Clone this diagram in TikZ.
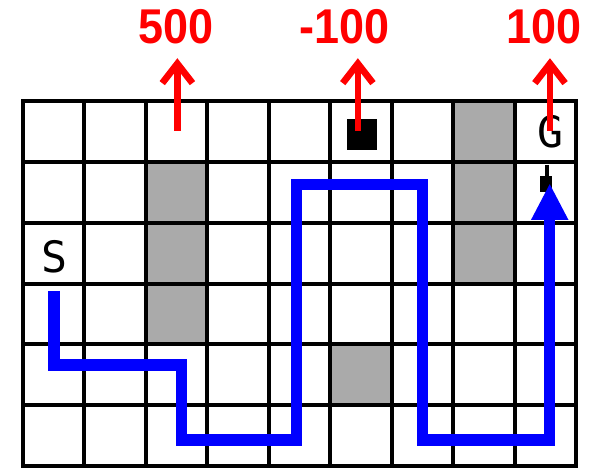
\documentclass[tikz,border=0pt]{standalone}
\usepackage{fontspec}
\usepackage{xcolor}
\usetikzlibrary{arrows.meta}
\newfontfamily\rewardfont{Liberation Sans}
\newfontfamily\cellfont{DejaVu Sans Mono}
\definecolor{wallgray}{RGB}{170,170,170}
\definecolor{pathblue}{RGB}{0,0,255}
\definecolor{rewardred}{RGB}{255,0,0}

\begin{document}
\begin{tikzpicture}[x=1cm,y=0.9886cm,
    wall/.style={fill=wallgray},
    gridline/.style={line width=1.85pt,black,line cap=rect},
    reward/.style={text=rewardred,font=\rewardfont\bfseries\fontsize{22.6}{26}\selectfont,transform shape,xscale=0.92,inner sep=0pt},
    rewardarrow/.style={rewardred,line width=3.1pt,-{Straight Barb[length=9pt,width=14pt]}},
    cell/.style={font=\cellfont\fontsize{20}{24}\selectfont,inner sep=0pt},
    route/.style={pathblue,line width=5.3pt,-{Triangle[length=17pt,width=16pt]}}]
  \useasboundingbox (-0.369,-0.049) rectangle (9.355,7.664);
  \fill[white] (-0.369,-0.049) rectangle (9.355,7.664);
  \foreach \c/\r in {2/2,2/3,2/4,7/3,7/4,7/5,5/1}{\fill[wall] (\c,\r) rectangle ++(1,1);}
  \foreach \x in {0,...,9}{\draw[gridline] (\x,0) -- (\x,6);}
  \foreach \y in {0,...,6}{\draw[gridline] (0,\y) -- (9,\y);}
  \fill (5.27,5.20) rectangle (5.76,5.71);
  \node[cell] (start) at (0.52,3.44) {S};
  \node[cell] (goal) at (8.59,5.50) {G};
  \node[reward] (r500) at (2.495,7.22) {500};
  \node[reward] (rpit) at (5.23,7.22) {-100};
  \node[reward] (rgoal) at (8.476,7.22) {100};
  \draw[rewardarrow] (2.515,5.515) -- (2.515,6.706);
  \draw[rewardarrow] (5.45,5.515) -- (5.45,6.706);
  \draw[rewardarrow] (8.574,5.515) -- (8.574,6.706);
  \draw[line width=1.5pt] (8.525,4.95) -- (8.525,4.62);
  \fill (8.41,4.51) rectangle (8.61,4.77);
  \draw[route] (0.51,2.88) -- (0.51,1.66) -- (2.58,1.66) -- (2.58,0.43) -- (4.45,0.43)
    -- (4.45,4.63) -- (6.5,4.63) -- (6.5,0.43) -- (8.57,0.43) -- (8.57,4.65);
\end{tikzpicture}
\end{document}
